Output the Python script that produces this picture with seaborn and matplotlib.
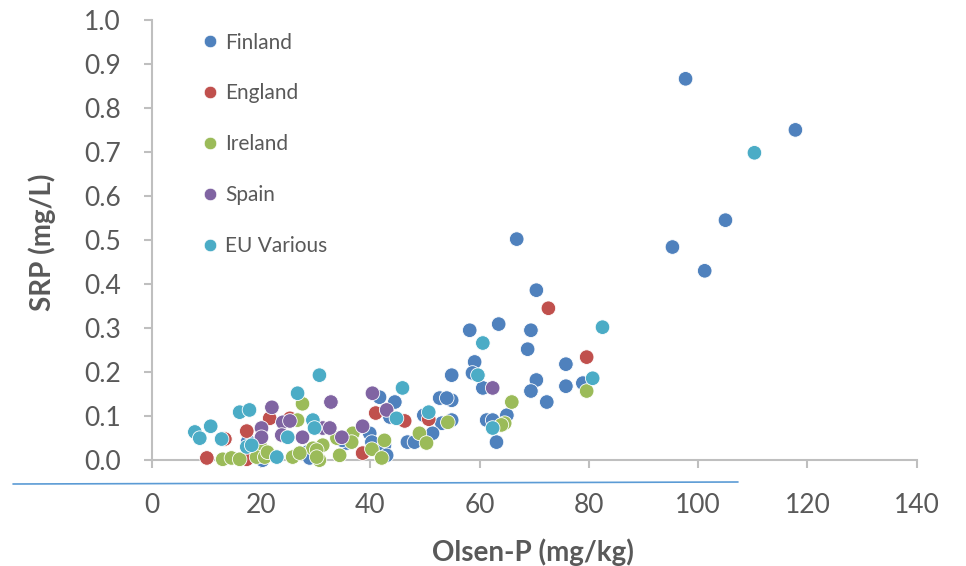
import matplotlib
matplotlib.use("Agg")
import matplotlib.pyplot as plt
import seaborn as sns
import pandas as pd
from matplotlib.lines import Line2D

# ---- data ----
finland_x = [97.7, 117.8, 105.0, 95.3, 101.2, 66.8, 70.4, 63.5, 58.2, 69.4, 68.8, 59.1, 75.8,
             54.9, 58.7, 70.4, 69.4, 75.8, 78.9, 60.6, 72.3, 54.9, 52.7, 54.0, 65.0, 54.9, 61.3,
             62.4, 63.1, 41.7, 44.5, 43.6, 49.8, 53.1, 39.9, 40.3, 42.6, 51.4, 46.8, 48.1, 35.7,
             43.0, 34.9, 28.4, 28.9, 20.3, 17.6]
finland_y = [0.866, 0.750, 0.545, 0.484, 0.430, 0.502, 0.386, 0.309, 0.295, 0.295, 0.252, 0.223, 0.218,
             0.193, 0.198, 0.182, 0.157, 0.168, 0.175, 0.164, 0.132, 0.136, 0.141, 0.141, 0.102, 0.091, 0.091,
             0.091, 0.041, 0.143, 0.132, 0.098, 0.102, 0.084, 0.061, 0.041, 0.034, 0.061, 0.041, 0.041, 0.039,
             0.011, 0.045, 0.018, 0.005, 0.000, 0.043]

england_x = [72.6, 79.6, 41.0, 46.3, 50.7, 38.6, 21.6, 25.3, 17.4, 13.4, 10.1, 17.4]
england_y = [0.345, 0.234, 0.107, 0.089, 0.093, 0.016, 0.095, 0.095, 0.066, 0.048, 0.005, 0.002]

ireland_x = [79.6, 65.9, 64.6, 64.0, 54.2, 49.0, 50.3, 42.6, 36.8, 33.9, 36.6, 31.3, 29.5, 34.4,
             30.7, 40.3, 42.1, 27.6, 26.7, 19.8, 13.0, 14.6, 16.1, 19.2, 20.7, 21.2, 25.8, 27.1,
             30.2, 30.2]
ireland_y = [0.157, 0.132, 0.084, 0.080, 0.086, 0.061, 0.039, 0.045, 0.061, 0.050, 0.041, 0.034, 0.027, 0.011,
             0.000, 0.025, 0.005, 0.128, 0.091, 0.034, 0.002, 0.005, 0.002, 0.007, 0.007, 0.018, 0.007, 0.016,
             0.023, 0.007]

spain_x = [62.4, 40.4, 43.0, 32.8, 38.6, 31.3, 32.6, 34.8, 22.0, 24.0, 25.3, 20.1, 20.1, 23.8, 27.6]
spain_y = [0.164, 0.152, 0.114, 0.132, 0.077, 0.073, 0.073, 0.052, 0.120, 0.086, 0.089, 0.073, 0.052, 0.057, 0.052]

eu_x = [110.3, 82.5, 60.6, 59.7, 80.7, 62.4, 45.9, 44.8, 50.7, 30.7, 26.7, 16.1, 17.9, 29.5, 29.8,
        7.9, 8.8, 10.8, 12.8, 24.9, 17.4, 18.3, 22.9]
eu_y = [0.698, 0.302, 0.266, 0.193, 0.186, 0.073, 0.164, 0.095, 0.109, 0.193, 0.152, 0.109, 0.114, 0.091, 0.073,
        0.064, 0.050, 0.077, 0.048, 0.052, 0.030, 0.034, 0.007]

series = ["Finland", "England", "Ireland", "Spain", "EU Various"]
colors = ["#4F81BD", "#C0504D", "#9BBB59", "#8064A2", "#4BACC6"]

x_ticks = [0, 20, 40, 60, 80, 100, 120, 140]
y_ticks = [0.0, 0.1, 0.2, 0.3, 0.4, 0.5, 0.6, 0.7, 0.8, 0.9, 1.0]

frames = []
for name, xs, ys in zip(series,
                        [finland_x, england_x, ireland_x, spain_x, eu_x],
                        [finland_y, england_y, ireland_y, spain_y, eu_y]):
    frames.append(pd.DataFrame({"Olsen-P": xs, "SRP": ys, "Country": name}))
df = pd.concat(frames, ignore_index=True)

sns.set_theme(style="white")
plt.rcParams["font.family"] = ["Lato", "DejaVu Sans"]

fig = plt.figure(figsize=(9.66, 5.66), dpi=100)
ax = fig.add_axes([0.157, 0.187, 0.792, 0.778])

sns.scatterplot(data=df, x="Olsen-P", y="SRP", hue="Country", hue_order=series,
                palette=dict(zip(series, colors)), s=110, edgecolor="white", linewidth=0.6,
                alpha=1, ax=ax, clip_on=False, legend=False, zorder=3)

ax.set_xlim(0, 140)
ax.set_ylim(0, 1.0)
ax.set_xticks(x_ticks)
ax.set_yticks(y_ticks)
ax.set_xticklabels([str(t) for t in x_ticks])
ax.set_yticklabels([f"{t:.1f}" for t in y_ticks])

grey = "#595959"
spine_c = "#BFBFBF"
for side in ["top", "right"]:
    ax.spines[side].set_visible(False)
for side in ["left", "bottom"]:
    ax.spines[side].set_color(spine_c)
    ax.spines[side].set_linewidth(1.5)
ax.tick_params(axis="both", which="major", direction="out", length=6, width=1.5,
               color=spine_c, labelcolor=grey, labelsize=19)
ax.tick_params(axis="y", pad=16)
ax.tick_params(axis="x", pad=18)
ax.tick_params(left=True, bottom=True)

ax.set_xlabel("Olsen-P (mg/kg)", fontsize=20, fontweight="bold", color=grey, va="top")
ax.set_ylabel("SRP (mg/L)", fontsize=20, fontweight="bold", color=grey)
ax.xaxis.set_label_coords(0.498, -0.177)
ax.yaxis.set_label_coords(-0.1255, 0.495)

handles = [Line2D([0], [0], marker="o", linestyle="", markersize=9, markerfacecolor=c,
                  markeredgecolor="white", markeredgewidth=0.5) for c in colors]
leg = ax.legend(handles, series, loc="upper left", bbox_to_anchor=(0.055, 0.99), frameon=False,
                fontsize=15, labelspacing=1.48, handlelength=0.8, handletextpad=0.3,
                borderaxespad=0)
for t in leg.get_texts():
    t.set_color(grey)

# thin blue decorative line under the axis
fig.add_artist(Line2D([13 / 966, 738 / 966], [1 - 484 / 566, 1 - 482 / 566],
                      color="#5B9BD5", linewidth=1.2, transform=fig.transFigure))

fig.savefig("out.png", dpi=100)
